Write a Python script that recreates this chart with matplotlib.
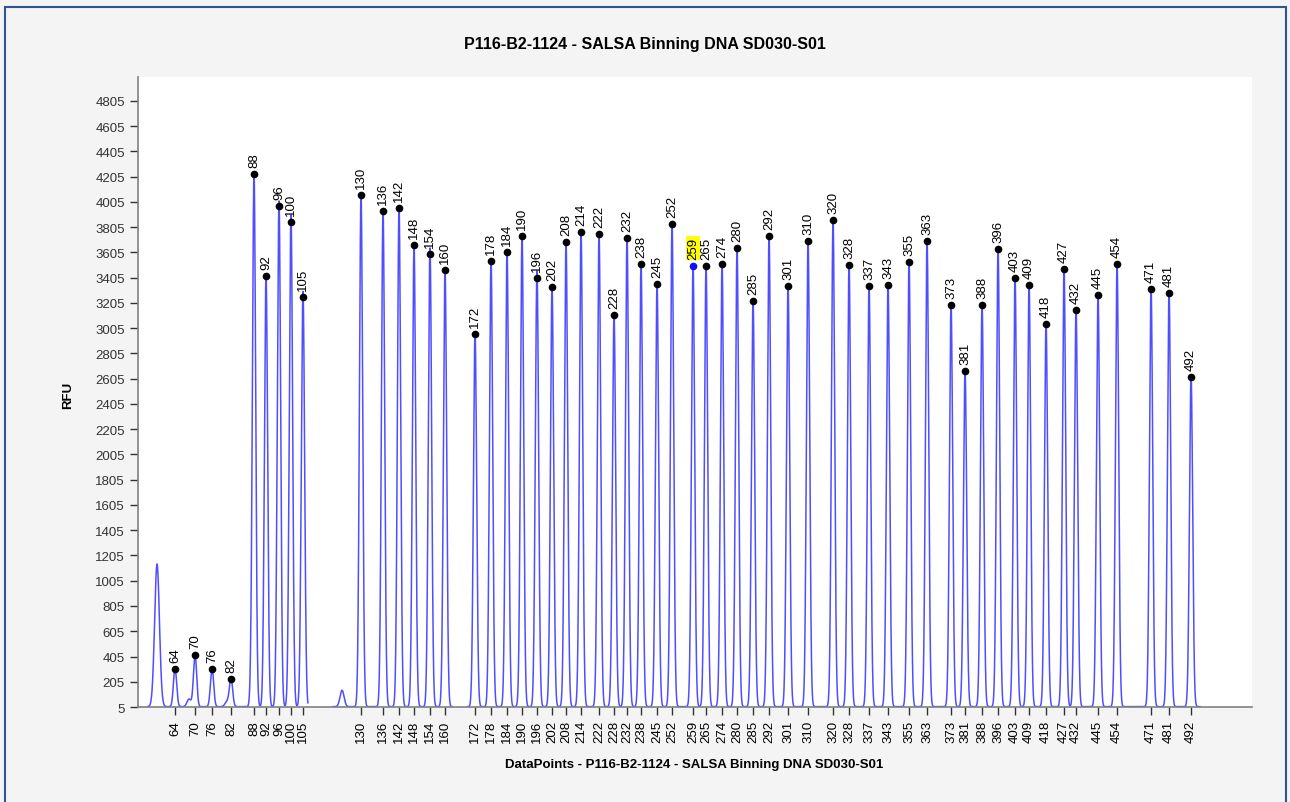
import numpy as np
import matplotlib.pyplot as plt
from matplotlib.patches import Rectangle

plt.rcParams['font.family'] = ['Liberation Sans', 'DejaVu Sans']

# bin sizes (labels) and their positions on the datapoint axis
sizes = ['64', '70', '76', '82', '88', '92', '96', '100', '105', '130', '136', '142',
         '148', '154', '160', '172', '178', '184', '190', '196', '202', '208', '214',
         '222', '228', '232', '238', '245', '252', '259', '265', '274', '280', '285',
         '292', '301', '310', '320', '328', '337', '343', '355', '363', '373', '381',
         '388', '396', '403', '409', '418', '427', '432', '445', '454', '471', '481', '492']
positions = [37, 57, 74, 93, 116, 128, 141, 153, 165, 223, 245, 261,
             276, 292, 307, 337, 353, 369, 384, 399, 414, 428, 443,
             461, 476, 489, 503, 519, 534, 555, 568, 584, 599, 615,
             631, 650, 670, 695, 711, 731, 750, 771, 789, 813, 827,
             844, 860, 877, 891, 908, 926, 938, 960, 979, 1013, 1031, 1053]
heights = [306, 417, 306, 227, 4227, 3419, 3973, 3844, 3253, 4060, 3934, 3957,
           3664, 3593, 3466, 2959, 3538, 3609, 3736, 3403, 3332, 3688, 3767,
           3752, 3110, 3720, 3514, 3355, 3831, 3498, 3498, 3514, 3641, 3221,
           3736, 3340, 3696, 3862, 3506, 3340, 3348, 3530, 3696, 3189, 2666,
           3189, 3633, 3403, 3348, 3039, 3474, 3150, 3268, 3514, 3316, 3284, 2619]
selected = '259'

# unlabeled small peaks / shoulders
minor_pos = [19, 51, 89, 113, 139, 151, 163, 204, 290, 397]
minor_height = [1130, 60, 40, 90, 130, 200, 140, 130, 160, 200]
minor_width = [2.4, 2.0, 2.0, 1.2, 1.2, 1.2, 1.2, 2.0, 1.2, 1.2]

# trace segments along the datapoint axis
segments = [(10, 170), (195, 314), (330, 1062)]

yticks = list(range(5, 4806, 200))

fig = plt.figure(figsize=(12.9, 8.03), dpi=100)
fig.patch.set_facecolor('#f4f4f4')
ax = fig.add_axes([0.107, 0.1183, 0.8636, 0.7846])
ax.set_facecolor('white')

for a, b in segments:
    x = np.arange(a, b, 0.1)
    y = np.full_like(x, 8.0)
    for p, h in zip(positions, heights):
        y += h * np.exp(-0.5 * ((x - p) / 1.6) ** 2)
    for p, h, w in zip(minor_pos, minor_height, minor_width):
        y += h * np.exp(-0.5 * ((x - p) / w) ** 2)
    ax.plot(x, y, color='#3030ff', lw=1.1, alpha=0.85)

for s, p, h in zip(sizes, positions, heights):
    if s == selected:
        ax.plot(p, h, 'o', color='#1010ff', ms=4.5, zorder=5)
        ax.annotate(s, (p, h), xytext=(0, 5), textcoords='offset points',
                    rotation=90, ha='center', va='bottom', fontsize=9.5,
                    bbox=dict(boxstyle='square,pad=0.1', fc='#ffff00', ec='none'))
    else:
        ax.plot(p, h, 'o', color='black', ms=4.5, zorder=5)
        ax.annotate(s, (p, h), xytext=(0, 5), textcoords='offset points',
                    rotation=90, ha='center', va='bottom', fontsize=9.5)

ax.set_xlim(0, 1114)
ax.set_ylim(5, 4995)
ax.set_xticks(positions)
ax.set_xticklabels(sizes, rotation=90, fontsize=9.5)
ax.set_yticks(yticks)
ax.set_yticklabels([str(v) for v in yticks], fontsize=9.5, color='#333333')
ax.tick_params(axis='both', length=6, width=1, color='#333333', direction='out')

for side in ['top', 'right']:
    ax.spines[side].set_visible(False)
for side in ['left', 'bottom']:
    ax.spines[side].set_color('#808080')
    ax.spines[side].set_linewidth(1.2)

fig.text(0.5, 0.945, 'P116-B2-1124 - SALSA Binning DNA SD030-S01',
         ha='center', va='center', fontsize=11.5, fontweight='bold')
fig.text(0.538, 0.047, 'DataPoints - P116-B2-1124 - SALSA Binning DNA SD030-S01',
         ha='center', va='center', fontsize=9.5, fontweight='bold')
fig.text(0.053, 0.508, 'RFU', ha='center', va='center', rotation=90,
         fontsize=9.5, fontweight='bold')

fig.add_artist(Rectangle((0.0035, -0.01), 0.9935, 0.9995, transform=fig.transFigure,
                         fill=False, edgecolor='#2f5597', lw=1.5))

fig.savefig('out.png', dpi=100, facecolor=fig.get_facecolor())
